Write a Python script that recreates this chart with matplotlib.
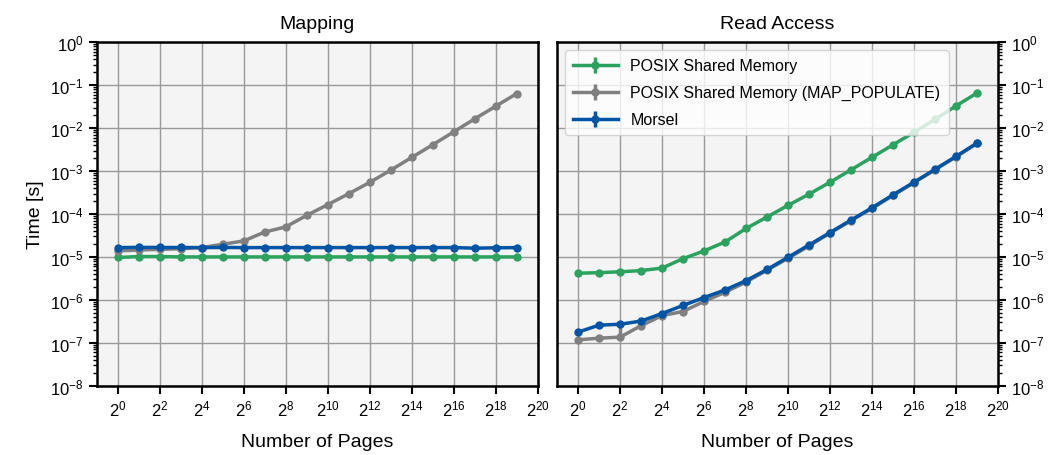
import numpy as np
import matplotlib
matplotlib.use("Agg")
import matplotlib.pyplot as plt
from matplotlib import ticker

plt.rcParams['font.family'] = ['Liberation Sans', 'DejaVu Sans']

pages = [2 ** i for i in range(20)]

# Mapping (left)
map_posix = [9.7e-6, 1.02e-5, 1.02e-5, 1.0e-5, 1.0e-5, 1.0e-5, 1.0e-5, 1.0e-5, 1.0e-5, 1.0e-5,
             1.0e-5, 1.0e-5, 1.0e-5, 1.0e-5, 1.0e-5, 1.0e-5, 1.0e-5, 1.0e-5, 1.0e-5, 1.0e-5]
map_populate = [1.38e-5, 1.45e-5, 1.5e-5, 1.55e-5, 1.65e-5, 1.97e-5, 2.36e-5, 3.8e-5, 5.0e-5, 9.3e-5,
                1.65e-4, 2.97e-4, 5.45e-4, 1.05e-3, 2.08e-3, 4.1e-3, 8.2e-3, 1.65e-2, 3.24e-2, 6.4e-2]
map_morsel = [1.65e-5, 1.67e-5, 1.66e-5, 1.66e-5, 1.65e-5, 1.66e-5, 1.65e-5, 1.65e-5, 1.65e-5, 1.65e-5,
              1.65e-5, 1.65e-5, 1.65e-5, 1.65e-5, 1.65e-5, 1.65e-5, 1.65e-5, 1.6e-5, 1.63e-5, 1.65e-5]

# Read access (right)
read_posix = [4.17e-6, 4.3e-6, 4.5e-6, 4.8e-6, 5.5e-6, 9.1e-6, 1.38e-5, 2.23e-5, 4.6e-5, 8.5e-5,
              1.59e-4, 2.9e-4, 5.5e-4, 1.07e-3, 2.1e-3, 4.1e-3, 8.0e-3, 1.6e-2, 3.3e-2, 6.6e-2]
read_populate = [1.17e-7, 1.28e-7, 1.35e-7, 2.5e-7, 4.3e-7, 5.35e-7, 9.2e-7, 1.5e-6, 2.6e-6, 4.9e-6,
                 9.3e-6, 1.8e-5, 3.6e-5, 7.0e-5, 1.35e-4, 2.7e-4, 5.4e-4, 1.07e-3, 2.15e-3, 4.4e-3]
read_populate_err_lo = [0, 0, 0, 3e-8, 0, 4e-8, 0, 0, 0, 0, 0, 0, 0, 0, 0, 0, 0, 0, 0, 0]
read_populate_err_hi = [0, 0, 1.1e-7, 6e-8, 0, 6e-8, 0, 0, 0, 0, 0, 0, 0, 0, 0, 0, 0, 0, 0, 0]
read_morsel = [1.77e-7, 2.57e-7, 2.7e-7, 3.2e-7, 4.8e-7, 7.4e-7, 1.13e-6, 1.7e-6, 2.8e-6, 5.1e-6,
               9.8e-6, 1.9e-5, 3.7e-5, 7.2e-5, 1.4e-4, 2.8e-4, 5.5e-4, 1.1e-3, 2.2e-3, 4.5e-3]
no_err = [0] * 20

labels = ['POSIX Shared Memory', 'POSIX Shared Memory (MAP_POPULATE)', 'Morsel']
colors = ['#2ca25f', '#808080', '#0054a4']

fig = plt.figure(figsize=(10.5, 4.56), dpi=100)
ax1 = fig.add_axes([0.0921, 0.152, 0.42, 0.753])
ax2 = fig.add_axes([0.5305, 0.152, 0.42, 0.753])

kw = dict(marker='o', markersize=5, linewidth=2.5, elinewidth=2.5, capsize=0)
ax1.errorbar(pages, map_posix, yerr=no_err, color=colors[0], label=labels[0], **kw)
ax1.errorbar(pages, map_populate, yerr=no_err, color=colors[1], label=labels[1], **kw)
ax1.errorbar(pages, map_morsel, yerr=no_err, color=colors[2], label=labels[2], **kw)

ax2.errorbar(pages, read_posix, yerr=no_err, color=colors[0], label=labels[0], **kw)
ax2.errorbar(pages, read_populate, yerr=[read_populate_err_lo, read_populate_err_hi],
             color=colors[1], label=labels[1], **kw)
ax2.errorbar(pages, read_morsel, yerr=no_err, color=colors[2], label=labels[2], **kw)

for ax, title in [(ax1, 'Mapping'), (ax2, 'Read Access')]:
    ax.set_facecolor('#f4f4f4')
    ax.set_xscale('log', base=2)
    ax.set_yscale('log')
    ax.set_xlim(2 ** -1, 2 ** 20)
    ax.set_ylim(1e-8, 1)
    ax.set_xticks([2 ** i for i in range(0, 21, 2)])
    ax.xaxis.set_major_formatter(ticker.LogFormatterMathtext(base=2))
    ax.xaxis.set_minor_locator(ticker.NullLocator())
    ax.yaxis.set_major_locator(ticker.LogLocator(base=10, numticks=20))
    ax.yaxis.set_minor_locator(ticker.LogLocator(base=10, subs=np.arange(2, 10), numticks=20))
    ax.yaxis.set_minor_formatter(ticker.NullFormatter())
    ax.grid(True, which='major', color='#999999', linewidth=1)
    ax.set_axisbelow(True)
    for s in ax.spines.values():
        s.set_linewidth(1.8)
    ax.tick_params(which='major', direction='out', length=6, width=1.5, labelsize=12)
    ax.tick_params(which='minor', direction='out', length=3, width=1)
    ax.set_title(title, fontsize=14, pad=10)
    ax.set_xlabel('Number of Pages', fontsize=14, labelpad=10)

ax1.set_ylabel('Time [s]', fontsize=14)
ax2.yaxis.tick_right()
ax2.yaxis.set_label_position('right')
ax2.legend(loc='upper left', fontsize=11.5, framealpha=0.8, borderaxespad=0.5,
           handlelength=2.8, labelspacing=0.75, borderpad=0.5)

plt.savefig('out.png', dpi=100)
